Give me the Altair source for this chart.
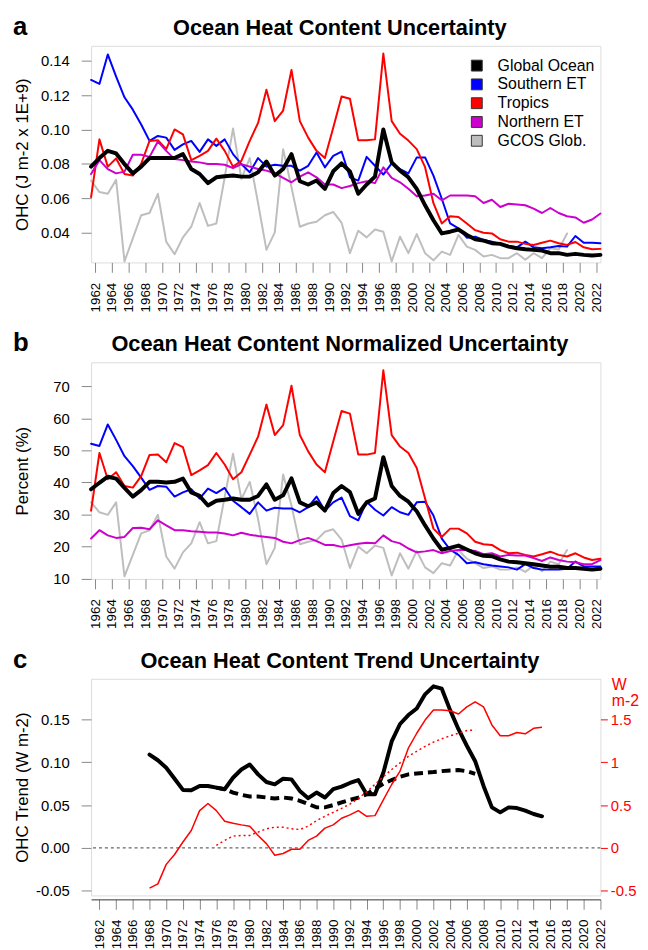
import altair as alt
import pandas as pd

FONT = "Liberation Sans"

# ---------------- data ----------------
mid_years = [y + 0.5 for y in range(1961, 2023)]          # 1961.5 ... 2022.5
series_names = ["Global Ocean", "Southern ET", "Tropics", "Northern ET", "GCOS Glob."]
series_colors = ["#000000", "#0000FF", "#FF0000", "#CD00CD", "#BEBEBE"]
panel_titles = ["Ocean Heat Content Uncertainty",
                "Ocean Heat Content Normalized Uncertainty",
                "Ocean Heat Content Trend Uncertainty"]
panel_letters = ["a", "b", "c"]

# Panel a : OHC uncertainty (J m-2 x 1E+9)
a_global = [0.0783, 0.0833, 0.0875, 0.0860, 0.0798, 0.0744, 0.0783, 0.0833, 0.0833, 0.0833,
            0.0833, 0.0856, 0.0769, 0.0740, 0.0687, 0.0721, 0.0727, 0.0731, 0.0725, 0.0725,
            0.0750, 0.0813, 0.0731, 0.0769, 0.0856, 0.0698, 0.0679, 0.0702, 0.0654, 0.0756,
            0.0802, 0.0755, 0.0625, 0.0679, 0.0725, 0.1000, 0.0808, 0.0760, 0.0721, 0.0654,
            0.0558, 0.0471, 0.0394, 0.0404, 0.0417, 0.0385, 0.0360, 0.0352, 0.0337, 0.0333,
            0.0317, 0.0308, 0.0302, 0.0298, 0.0294, 0.0279, 0.0279, 0.0269, 0.0275, 0.0269,
            0.0265, 0.0269]
a_south = [0.1288, 0.1265, 0.1437, 0.1308, 0.1187, 0.1115, 0.1029, 0.0933, 0.0962, 0.0952,
           0.0881, 0.0913, 0.0933, 0.0869, 0.0942, 0.0904, 0.0942, 0.0856, 0.0798, 0.0750,
           0.0833, 0.0783, 0.0794, 0.0788, 0.0788, 0.0760, 0.0788, 0.0865, 0.0779, 0.0846,
           0.0871, 0.0721, 0.0702, 0.0840, 0.0788, 0.0737, 0.0802, 0.0769, 0.0744, 0.0837,
           0.0837, 0.0731, 0.0596, 0.0452, 0.0423, 0.0369, 0.0375, 0.0356, 0.0346, 0.0333,
           0.0321, 0.0313, 0.0346, 0.0313, 0.0308, 0.0313, 0.0321, 0.0317, 0.0379, 0.0340,
           0.0340, 0.0337]
a_tropics = [0.0606, 0.0942, 0.0783, 0.0831, 0.0740, 0.0731, 0.0800, 0.0933, 0.0937, 0.0885,
             0.1000, 0.0971, 0.0821, 0.0846, 0.0875, 0.0946, 0.0875, 0.0783, 0.0817, 0.0933,
             0.1038, 0.1231, 0.1048, 0.1110, 0.1346, 0.1048, 0.0952, 0.0875, 0.0833, 0.1010,
             0.1192, 0.1179, 0.0937, 0.0937, 0.0942, 0.1442, 0.1048, 0.0975, 0.0935, 0.0885,
             0.0780, 0.0570, 0.0452, 0.0494, 0.0490, 0.0452, 0.0413, 0.0398, 0.0394, 0.0360,
             0.0346, 0.0346, 0.0333, 0.0327, 0.0340, 0.0352, 0.0337, 0.0327, 0.0344, 0.0313,
             0.0302, 0.0304]
a_north = [0.0740, 0.0821, 0.0769, 0.0744, 0.0754, 0.0852, 0.0852, 0.0840, 0.0929, 0.0875,
           0.0827, 0.0821, 0.0813, 0.0808, 0.0798, 0.0798, 0.0794, 0.0775, 0.0798, 0.0783,
           0.0769, 0.0760, 0.0744, 0.0717, 0.0692, 0.0725, 0.0750, 0.0721, 0.0679, 0.0679,
           0.0658, 0.0670, 0.0687, 0.0698, 0.0687, 0.0779, 0.0717, 0.0692, 0.0654, 0.0610,
           0.0615, 0.0625, 0.0587, 0.0615, 0.0615, 0.0615, 0.0610, 0.0571, 0.0590, 0.0548,
           0.0567, 0.0563, 0.0558, 0.0538, 0.0513, 0.0542, 0.0513, 0.0494, 0.0487, 0.0456,
           0.0475, 0.0510]
a_gcos = [0.0702, 0.0635, 0.0625, 0.0706, 0.0231, 0.0365, 0.0500, 0.0513, 0.0625, 0.0346,
          0.0273, 0.0371, 0.0433, 0.0571, 0.0438, 0.0452, 0.0720, 0.1006, 0.0712, 0.0833,
          0.0570, 0.0298, 0.0400, 0.0885, 0.0663, 0.0433, 0.0452, 0.0462, 0.0500, 0.0519,
          0.0456, 0.0279, 0.0410, 0.0371, 0.0417, 0.0404, 0.0231, 0.0375, 0.0279, 0.0390,
          0.0279, 0.0237, 0.0288, 0.0269, 0.0385, 0.0317, 0.0298, 0.0260, 0.0269, 0.0250,
          0.0250, 0.0279, 0.0240, 0.0279, 0.0250, 0.0308, 0.0300, 0.0394]

# Panel b : normalized uncertainty (%)
b_global = [37.9, 39.9, 41.8, 41.2, 38.3, 35.6, 37.6, 40.2, 40.2, 40.0,
            40.2, 41.2, 36.9, 35.8, 32.8, 34.3, 34.6, 35.0, 34.6, 34.6,
            35.8, 39.4, 34.6, 36.0, 41.3, 33.8, 32.6, 33.8, 31.2, 36.7,
            38.9, 37.0, 30.2, 33.8, 35.0, 47.9, 38.9, 35.8, 34.0, 31.0,
            26.6, 22.5, 19.0, 19.6, 20.3, 19.1, 17.9, 17.1, 17.0, 16.0,
            15.3, 15.1, 14.8, 14.5, 14.1, 13.7, 13.7, 13.3, 13.3, 13.1,
            12.8, 13.1]
b_south = [52.1, 51.4, 58.1, 53.3, 48.2, 45.1, 41.5, 37.7, 38.9, 38.7,
           35.6, 36.9, 37.9, 35.0, 38.1, 36.7, 38.3, 34.3, 32.3, 30.2,
           33.8, 31.2, 32.1, 31.9, 31.9, 30.7, 32.3, 35.6, 31.2, 33.8,
           35.3, 29.5, 28.2, 34.0, 31.5, 29.7, 32.3, 30.7, 29.9, 33.8,
           34.0, 29.7, 22.5, 19.0, 17.4, 14.8, 15.1, 14.5, 14.1, 13.8,
           13.5, 12.8, 14.5, 13.3, 12.8, 12.8, 12.8, 13.1, 15.3, 13.8,
           13.8, 13.8]
b_tropics = [31.2, 49.2, 41.0, 43.2, 38.9, 38.4, 42.0, 48.6, 48.7, 46.3,
             52.3, 51.0, 42.3, 43.8, 45.4, 49.2, 45.6, 41.0, 43.2, 48.7,
             54.3, 64.3, 54.8, 57.9, 70.2, 54.8, 49.7, 45.6, 43.2, 52.8,
             62.3, 61.5, 48.7, 48.7, 49.2, 75.0, 54.8, 51.2, 49.2, 44.5,
             35.0, 25.6, 23.0, 25.6, 25.6, 24.1, 21.5, 20.7, 20.5, 18.9,
             17.9, 18.1, 17.4, 16.9, 17.6, 18.4, 17.4, 16.9, 17.9, 16.6,
             15.8, 16.2]
b_north = [22.5, 25.1, 23.5, 22.7, 23.0, 25.8, 25.9, 25.4, 28.2, 26.6,
           25.1, 25.1, 24.8, 24.6, 24.4, 24.4, 24.1, 23.5, 24.3, 23.7,
           23.3, 23.0, 22.7, 21.5, 21.0, 22.0, 22.7, 21.7, 20.5, 20.5,
           19.9, 20.4, 20.9, 21.2, 21.0, 23.5, 21.7, 21.0, 19.4, 18.2,
           18.5, 18.9, 17.9, 18.6, 18.9, 18.9, 18.6, 17.6, 17.9, 16.9,
           17.4, 17.2, 17.2, 16.4, 15.5, 16.6, 15.8, 15.3, 15.1, 14.5,
           14.5, 15.8]
b_gcos = [33.8, 30.7, 29.9, 33.8, 10.7, 17.4, 24.1, 25.1, 29.9, 16.9,
          13.1, 18.2, 21.0, 27.6, 21.0, 21.7, 35.5, 49.0, 34.8, 40.2,
          28.5, 14.5, 19.6, 42.5, 32.8, 20.7, 21.5, 22.0, 24.6, 25.4,
          22.2, 13.3, 20.0, 17.9, 20.3, 19.6, 11.0, 17.9, 13.1, 18.6,
          13.5, 11.7, 14.8, 14.1, 18.9, 16.2, 14.8, 13.3, 13.8, 12.8,
          12.8, 13.5, 12.1, 14.1, 12.3, 15.3, 14.5, 18.9]

# Panel c : trend uncertainty
c_solid_years = list(range(1968, 2016))
c_black_solid = [0.1088, 0.1023, 0.0935, 0.0808, 0.0677, 0.0673, 0.0723, 0.0723, 0.0704, 0.0685,
                 0.0819, 0.0915, 0.0973, 0.0858, 0.0769, 0.0742, 0.0808, 0.0800, 0.0665, 0.0581,
                 0.0646, 0.0588, 0.0685, 0.0715, 0.0758, 0.0792, 0.0627, 0.0627, 0.0877, 0.1242,
                 0.1446, 0.1550, 0.1627, 0.1792, 0.1885, 0.1858, 0.1608, 0.1385, 0.1192, 0.1012,
                 0.0723, 0.0473, 0.0415, 0.0473, 0.0465, 0.0435, 0.0396, 0.0369]
c_red_solid = [-0.469, -0.419, -0.192, -0.077, 0.069, 0.204, 0.435, 0.519, 0.435, 0.312,
               0.288, 0.269, 0.254, 0.146, 0.050, -0.085, -0.065, -0.015, -0.015, 0.088,
               0.138, 0.231, 0.269, 0.346, 0.385, 0.435, 0.369, 0.377, 0.560, 0.740,
               0.896, 1.165, 1.338, 1.492, 1.608, 1.608, 1.600, 1.562, 1.646, 1.704,
               1.646, 1.435, 1.308, 1.308, 1.346, 1.331, 1.396, 1.408]
c_fit_years = list(range(1976, 2008))
c_black_dashed = [0.0704, 0.0685, 0.0646, 0.0619, 0.0600, 0.0600, 0.0588, 0.0577, 0.0588, 0.0577,
                  0.0550, 0.0512, 0.0473, 0.0473, 0.0500, 0.0531, 0.0560, 0.0588, 0.0627, 0.0690,
                  0.0750, 0.0792, 0.0831, 0.0858, 0.0869, 0.0877, 0.0885, 0.0896, 0.0904, 0.0908,
                  0.0895, 0.0865]
c_red_dotted = [0.030, 0.088, 0.138, 0.146, 0.146, 0.185, 0.223, 0.242, 0.242, 0.223,
                0.215, 0.254, 0.319, 0.369, 0.415, 0.462, 0.512, 0.577, 0.654, 0.742,
                0.831, 0.915, 0.992, 1.069, 1.127, 1.185, 1.235, 1.273, 1.308, 1.338,
                1.369, 1.377]
zero_line = [0.0]

x_ticks = list(range(1962, 2023, 2))

# ---------------- helpers ----------------
PLOT_W, PLOT_H = 515, 219


def x_axis(offset=0, domain=False):
    return alt.Axis(values=x_ticks, format="d", labelAngle=-90, labelFontSize=13.5,
                    tickSize=10, labelPadding=10, domain=domain, domainColor="#333",
                    offset=offset, grid=False, title=None, labelOverlap=False,
                    labelFlush=False, labelBound=False)


def y_axis(vals, fmt, title):
    return alt.Axis(values=vals, format=fmt, labelFontSize=15, tickSize=10, labelPadding=12,
                    domain=False, grid=False, title=title, titleFontSize=17,
                    titleFontWeight="normal", minExtent=56, titlePadding=4,
                    labelExpr="replace(datum.label, '\u2212', '-')")


def header_layers(idx):
    hdr = pd.DataFrame({"letter": [panel_letters[idx]], "title": [panel_titles[idx]]})
    letter = alt.Chart(hdr).mark_text(
        align="left", baseline="alphabetic", fontSize=26, fontWeight="bold", font=FONT,
        color="#000").encode(text="letter:N", x=alt.value(-79), y=alt.value(-11))
    title = alt.Chart(hdr).mark_text(
        align="center", baseline="alphabetic", fontSize=22, fontWeight="bold", font=FONT,
        color="#000").encode(text="title:N", x=alt.value(PLOT_W / 2 - 6), y=alt.value(-11))
    return [letter, title]


def ab_panel(series_lists, ydom, yvals, yfmt, ytitle, idx):
    rows = []
    for name, vals in zip(series_names, series_lists):
        for yr, v in zip(mid_years, vals):
            rows.append({"year": yr, "value": v, "series": name})
    df = pd.DataFrame(rows)
    xenc = alt.X("year:Q", scale=alt.Scale(domain=[1961.5, 2022.5], nice=False, zero=False),
                 axis=x_axis())
    yenc = alt.Y("value:Q", scale=alt.Scale(domain=ydom, nice=False, zero=False),
                 axis=y_axis(yvals, yfmt, ytitle))
    layers = []
    for name in ["GCOS Glob.", "Southern ET", "Tropics", "Northern ET", "Global Ocean"]:
        i = series_names.index(name)
        layers.append(
            alt.Chart(df[df.series == name]).mark_line(
                color=series_colors[i], strokeWidth=4 if name == "Global Ocean" else 2,
                strokeJoin="round", strokeCap="round").encode(x=xenc, y=yenc))
    legend_layer = alt.Chart(df).mark_point(shape="square", filled=True, opacity=0).encode(
        x=xenc, y=yenc,
        fill=alt.Fill("series:N", scale=alt.Scale(domain=series_names, range=series_colors),
                      legend=alt.Legend(orient="none", legendX=382, legendY=12, title=None,
                                        symbolType="square", symbolSize=121,
                                        symbolStrokeColor="#333", symbolStrokeWidth=1,
                                        symbolOpacity=1, labelFontSize=16, labelFont=FONT,
                                        labelOffset=13, rowPadding=3, padding=0,
                                        labelLimit=300, labelColor="#000")))
    return alt.layer(*layers, legend_layer, *header_layers(idx)).properties(
        width=PLOT_W, height=PLOT_H)


panel_a = ab_panel([a_global, a_south, a_tropics, a_north, a_gcos], [0.0225, 0.1487],
                   [0.04, 0.06, 0.08, 0.10, 0.12, 0.14], ".2f", "OHC (J m-2 x 1E+9)", 0)
panel_b = ab_panel([b_global, b_south, b_tropics, b_north, b_gcos], [9.9, 77.5],
                   [10, 20, 30, 40, 50, 60, 70], "d", "Percent (%)", 1)

# ---------------- panel c ----------------
df_c_solid = pd.DataFrame({"year": c_solid_years, "black": c_black_solid, "red": c_red_solid})
df_c_fit = pd.DataFrame({"year": c_fit_years, "black": c_black_dashed, "red": c_red_dotted})
df_zero = pd.DataFrame({"v": zero_line})

xc = alt.X("year:Q", scale=alt.Scale(domain=[1961, 2022], nice=False, zero=False),
           axis=x_axis(offset=4, domain=True))
left_scale = alt.Scale(domain=[-0.0554, 0.1973], nice=False, zero=False)
right_scale = alt.Scale(domain=[-0.554, 1.973], nice=False, zero=False)
left_axis = y_axis([-0.05, 0.0, 0.05, 0.10, 0.15], ".2f", "OHC Trend (W m-2)")
right_axis = alt.Axis(orient="right", values=[-0.5, 0, 0.5, 1, 1.5],
                      labelExpr="replace(format(datum.value, '~g'), '\u2212', '-')",
                      labelFontSize=15, labelColor="#FF0000", tickColor="#FF0000",
                      tickSize=7, labelPadding=3, domain=False, grid=False,
                      title=["W", "m-2"], titleColor="#FF0000", titleFontSize=16,
                      titleFontWeight="normal", titleAngle=0, titleAlign="left",
                      titleBaseline="alphabetic", titleX=11, titleY=11, titleLineHeight=16)

zero_rule = alt.Chart(df_zero).mark_rule(color="#666", strokeDash=[3, 3], strokeWidth=1.3).encode(
    y=alt.Y("v:Q", scale=left_scale, axis=left_axis))
black_solid = alt.Chart(df_c_solid).mark_line(color="#000", strokeWidth=4, strokeJoin="round",
                                               strokeCap="round").encode(
    x=xc, y=alt.Y("black:Q", scale=left_scale, axis=left_axis))
black_dashed = alt.Chart(df_c_fit).mark_line(color="#000", strokeWidth=4,
                                              strokeDash=[9, 5]).encode(
    x=xc, y=alt.Y("black:Q", scale=left_scale, axis=left_axis))
red_solid = alt.Chart(df_c_solid).mark_line(color="#FF0000", strokeWidth=1.5,
                                             strokeJoin="round").encode(
    x=xc, y=alt.Y("red:Q", scale=right_scale, axis=right_axis))
red_dotted = alt.Chart(df_c_fit).mark_line(color="#FF0000", strokeWidth=1.5,
                                            strokeDash=[2, 3]).encode(
    x=xc, y=alt.Y("red:Q", scale=right_scale, axis=right_axis))

left_group = alt.layer(zero_rule, black_solid, black_dashed)
right_group = alt.layer(red_solid, red_dotted)
panel_c = alt.layer(left_group, right_group, *header_layers(2)).resolve_scale(
    y="independent").properties(width=PLOT_W, height=PLOT_H)

chart = alt.vconcat(panel_a, panel_b, panel_c, spacing=17).properties(
    padding={"left": 4, "top": 0, "right": 0, "bottom": 0}
).configure_view(stroke="#222", strokeWidth=1.5).configure_axis(
    labelFont=FONT, titleFont=FONT, labelColor="#000", titleColor="#000",
    tickColor="#333", tickWidth=1).configure_axisX(
    labelFontSize=13.5, tickSize=10, labelPadding=10).configure_axisLeft(
    labelFontSize=15, tickSize=10, labelPadding=12).configure(font=FONT)

chart.save("out.html", embed_options={"renderer": "svg", "actions": False})
